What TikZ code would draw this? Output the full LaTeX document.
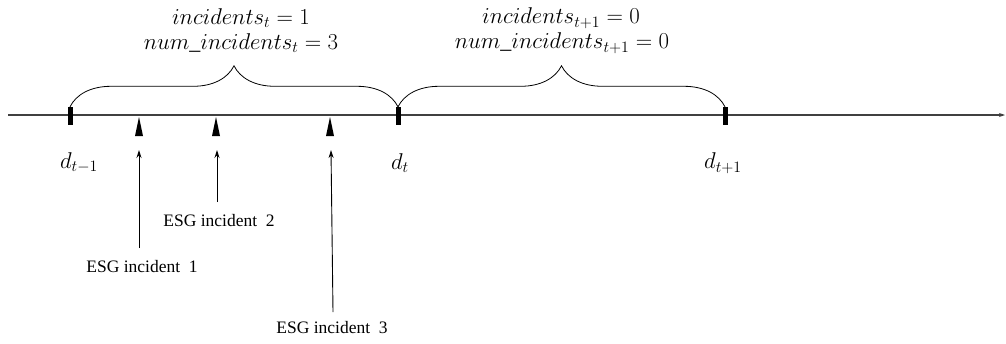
\documentclass[tikz,border=0pt]{standalone}
\usepackage{graphicx}
\usepackage{fontspec}
\setmainfont{Liberation Serif}
\usetikzlibrary{decorations.pathreplacing,arrows.meta}
\newcommand{\mylbl}[1]{\scalebox{1.1}{$#1$}}
\begin{document}
\begin{tikzpicture}[x=1pt,y=-1pt,
  tickbox/.style={draw=none,fill=black,minimum width=5pt,minimum height=18pt,inner sep=0pt},
  mathlbl/.style={inner sep=0pt,font=\fontsize{20}{24}\selectfont},
  esglbl/.style={inner sep=0pt,font=\fontsize{17.5}{20}\selectfont},
  ptr/.style={line width=0.9pt,-{Stealth[length=8pt,width=5pt]}},
  brc/.style={line width=0.8pt,decorate,decoration={brace,amplitude=41pt,aspect=0.5}}]
\useasboundingbox (0,0) rectangle (1006,343);
% timeline
\coordinate (tl0) at (8,115);
\coordinate (tl1) at (1005,115);
\draw[line width=1.1pt,color=black!75,-{Stealth[length=6pt,width=4pt]}] (tl0) -- (tl1);
% ticks
\node[tickbox] (k0) at (70,116) {};
\node[tickbox] (k1) at (398,116) {};
\node[tickbox] (k2) at (725,116) {};
% incident markers (triangles)
\foreach \n/\x in {m1/139,m2/216,m3/330}{
  \fill (\x,117) -- (\x+4,136) -- (\x-4,136) -- cycle;
  \coordinate (\n) at (\x,150);
}
% braces
\draw[brc] (k0.north) -- (k1.north);
\draw[brc] (k1.north) -- (k2.north);
% top labels
\node[mathlbl] (i1) at (241,18) {\mylbl{incidents_t = 1}};
\node[mathlbl] (n1) at (241,43) {\mylbl{num\_incidents_t = 3}};
\node[mathlbl] (i2) at (561,18) {\mylbl{incidents_{t+1} = 0}};
\node[mathlbl] (n2) at (562,43) {\mylbl{num\_incidents_{t+1} = 0}};
% d labels
\node[mathlbl] (d0) at (79,163) {\mylbl{d_{t-1}}};
\node[mathlbl] (d1) at (400,163) {\mylbl{d_t}};
\node[mathlbl] (d2) at (723,163) {\mylbl{d_{t+1}}};
% ESG labels
\node[esglbl] (e1) at (142,267) {ESG incident\ \ 1};
\node[esglbl] (e2) at (219,221) {ESG incident\ \ 2};
\node[esglbl] (e3) at (332,328) {ESG incident\ \ 3};
\coordinate (s1) at (139,248);
\coordinate (s2) at (217,202);
\coordinate (s3) at (333,312);
\draw[ptr] (s1) -- (m1);
\draw[ptr] (s2) -- (m2 -| s2);
\draw[ptr] (s3) -- (331,150);
\end{tikzpicture}
\end{document}
